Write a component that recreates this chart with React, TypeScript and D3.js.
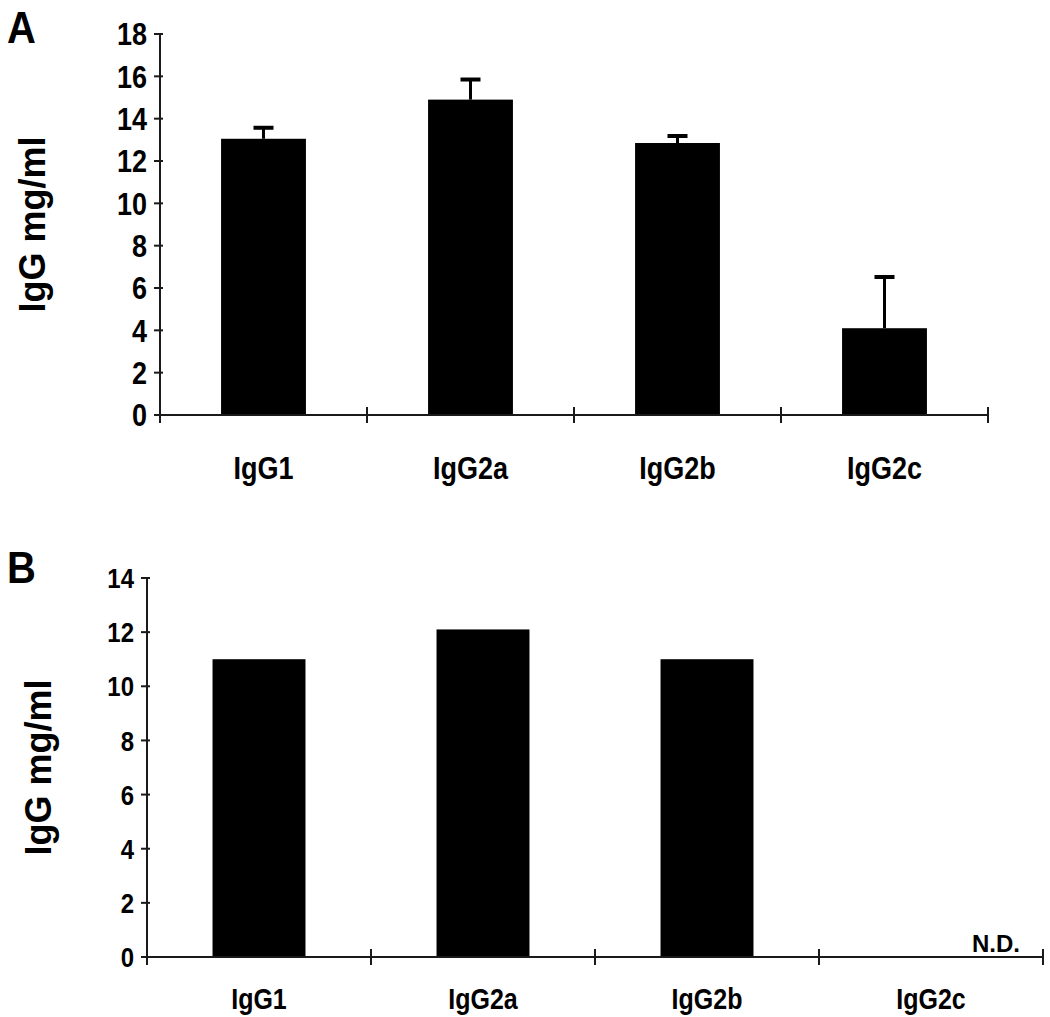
import React from "react";
import * as d3 from "d3";

const categories = ["IgG1", "IgG2a", "IgG2b", "IgG2c"];
const panelAValues = [13.05, 14.9, 12.85, 4.1];
const panelAErrors = [0.52, 0.95, 0.33, 2.42];
const panelATicks = [0, 2, 4, 6, 8, 10, 12, 14, 16, 18];
const panelBValues: (number | null)[] = [11.0, 12.1, 11.0, null];
const panelBTicks = [0, 2, 4, 6, 8, 10, 12, 14];
const notDetectedLabel = "N.D.";
const yTitle = "IgG mg/ml";

const FONT = "'Liberation Sans', Arial, Helvetica, sans-serif";
const SY = 1.18;

function T(props: {
  x: number;
  y: number;
  size: number;
  anchor?: string;
  sy?: number;
  children: React.ReactNode;
}) {
  const sy = props.sy ?? SY;
  return (
    <text
      transform={`translate(${props.x},${props.y}) scale(1,${sy})`}
      textAnchor={props.anchor ?? "start"}
      fontFamily={FONT}
      fontWeight="bold"
      fontSize={props.size}
      fill="#000"
    >
      {props.children}
    </text>
  );
}

type PanelProps = {
  letter: string;
  letterY: number;
  values: (number | null)[];
  errors?: number[];
  ticks: number[];
  yMax: number;
  x0: number;
  x1: number;
  yTop: number;
  yBottom: number;
  barFrac: number;
  tickFont: number;
  catFont: number;
  catY: number;
  titleX: number;
  titleFont: number;
};

function Panel(p: PanelProps) {
  const x = d3.scaleBand<string>().domain(categories).range([p.x0, p.x1]).paddingInner(0).paddingOuter(0);
  const y = d3.scaleLinear().domain([0, p.yMax]).range([p.yBottom, p.yTop]);
  const bw = x.bandwidth() * p.barFrac;
  const titleY = (p.yTop + p.yBottom) / 2;
  const axisColor = "#1a1a1a";
  return (
    <g>
      <T x={7} y={p.letterY} size={40} sy={1.12}>
        {p.letter}
      </T>
      <text
        transform={`translate(${p.titleX},${titleY}) rotate(-90)`}
        textAnchor="middle"
        dominantBaseline="central"
        fontFamily={FONT}
        fontWeight="bold"
        fontSize={p.titleFont}
        fill="#000"
      >
        {yTitle}
      </text>
      {categories.map((c, i) => {
        const v = p.values[i];
        if (v == null) return null;
        const cx = (x(c) as number) + x.bandwidth() / 2;
        return <rect key={c} x={cx - bw / 2} y={y(v)} width={bw} height={y(0) - y(v)} fill="#000" />;
      })}
      {p.errors &&
        categories.map((c, i) => {
          const v = p.values[i];
          const e = p.errors![i];
          if (v == null) return null;
          const cx = (x(c) as number) + x.bandwidth() / 2;
          return (
            <g key={"e" + c}>
              <line x1={cx} x2={cx} y1={y(v)} y2={y(v + e)} stroke="#000" strokeWidth={3} />
              <line x1={cx - 10} x2={cx + 10} y1={y(v + e)} y2={y(v + e)} stroke="#000" strokeWidth={4} />
            </g>
          );
        })}
      <line x1={p.x0} x2={p.x0} y1={y(p.yMax) - 1} y2={y(0) + 8} stroke={axisColor} strokeWidth={2} />
      {p.ticks.map((t) => (
        <g key={"yt" + t}>
          <line x1={p.x0 - 6} x2={p.x0 + 3} y1={y(t)} y2={y(t)} stroke={axisColor} strokeWidth={2} />
          <T x={p.x0 - 13} y={y(t) + p.tickFont * 0.36 * SY} size={p.tickFont} anchor="end">
            {t}
          </T>
        </g>
      ))}
      <line x1={p.x0} x2={p.x1} y1={y(0)} y2={y(0)} stroke={axisColor} strokeWidth={2} />
      {categories.map((c) => {
        const xr = (x(c) as number) + x.bandwidth();
        return <line key={"xt" + c} x1={xr} x2={xr} y1={y(0) - 8} y2={y(0) + 8} stroke={axisColor} strokeWidth={2} />;
      })}
      {categories.map((c) => (
        <T key={"xl" + c} x={(x(c) as number) + x.bandwidth() / 2} y={p.catY} size={p.catFont} anchor="middle">
          {c}
        </T>
      ))}
      {p.values.map((v, i) =>
        v == null ? (
          <T key={"nd" + i} x={(x(categories[i]) as number) + x.bandwidth() * 0.79} y={y(0) - 5} size={24} anchor="middle" sy={1.0}>
            {notDetectedLabel}
          </T>
        ) : null
      )}
    </g>
  );
}

export default function App() {
  return (
    <svg width={1050} height={1017} viewBox="0 0 1050 1017" style={{ position: "absolute", left: 0, top: 0, background: "#fff" }}>
      <rect x={0} y={0} width={1050} height={1017} fill="#fff" />
      <Panel
        letter="A"
        letterY={43}
        values={panelAValues}
        errors={panelAErrors}
        ticks={panelATicks}
        yMax={18}
        x0={160}
        x1={988}
        yTop={34}
        yBottom={415}
        barFrac={0.41}
        tickFont={27}
        catFont={27}
        catY={479}
        titleX={32}
        titleFont={36}
      />
      <Panel
        letter="B"
        letterY={583}
        values={panelBValues}
        errors={undefined}
        ticks={panelBTicks}
        yMax={14}
        x0={147}
        x1={1043}
        yTop={578}
        yBottom={957}
        barFrac={0.415}
        tickFont={24}
        catFont={25}
        catY={1009}
        titleX={38}
        titleFont={36}
      />
    </svg>
  );
}
